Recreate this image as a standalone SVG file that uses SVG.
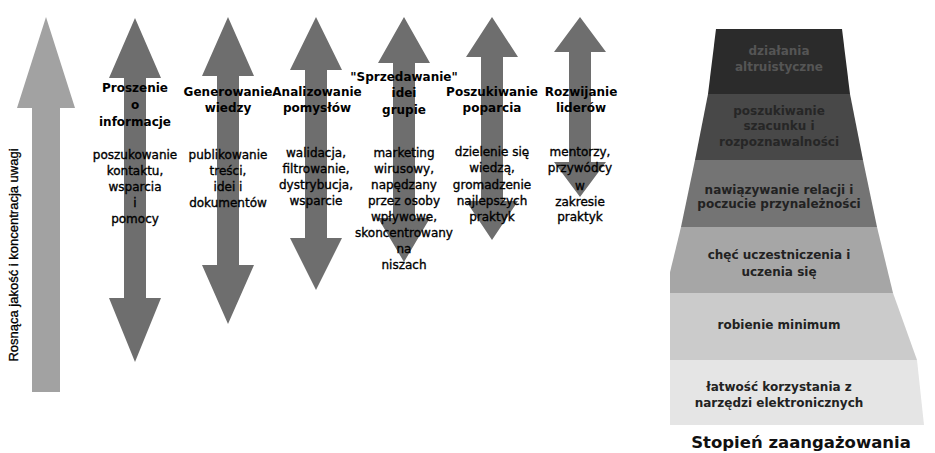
<svg xmlns="http://www.w3.org/2000/svg" width="935" height="453" viewBox="0 0 935 453">
<style>
.arr{fill:#6e6e6e}
.big{fill:#a2a2a2}
.t{font-family:"DejaVu Sans",Verdana,sans-serif;font-size:12px;font-weight:bold;fill:#000;text-anchor:middle}
.d{font-family:"DejaVu Sans",Verdana,sans-serif;font-size:12px;fill:#000;stroke:#000;stroke-width:0.35px;text-anchor:middle}
.p{font-family:"DejaVu Sans",Verdana,sans-serif;font-size:12px;font-weight:bold;fill:#222;text-anchor:middle}
.v{font-family:"Liberation Sans",Arial,sans-serif;font-size:13px;fill:#000;stroke:#000;stroke-width:0.3px;text-anchor:middle}
</style>
<defs>
<clipPath id="pc"><rect x="670" y="0" width="265" height="453"/></clipPath>
</defs>
<rect width="935" height="453" fill="#fff"/>
<g id="axis">
<polygon class="big" points="46,17 75,108 60,108 60,392 32,392 32,108 17,108"/>
<text class="v" transform="translate(18,255) rotate(-90)">Rosnąca jakość i koncentracja uwagi</text>
</g>
<g id="connectors">
<polygon class="arr" points="135,18 161,78 146,78 146,298 161,298 135,362 109,298 124,298 124,78 109,78"/>
<polygon class="arr" points="228,17 254,76 239,76 239,265 254,265 228,324 202,265 217,265 217,76 202,76"/>
<polygon class="arr" points="316,17 342,70 327,70 327,238 342,238 316,290 290,238 305,238 305,70 290,70"/>
<polygon class="arr" points="404,17 430,63 415,63 415,218 430,218 404,262 378,218 393,218 393,63 378,63"/>
<polygon class="arr" points="492,17 518,57 503,57 503,201 518,201 492,240 466,201 481,201 481,57 466,57"/>
<polygon class="arr" points="580,17 606,52 591,52 591,162 606,162 580,197 554,162 569,162 569,52 554,52"/>
</g>
<g id="col1">
<text class="t" x="135" y="92">Proszenie</text>
<text class="t" x="135" y="109">o</text>
<text class="t" x="135" y="126">informacje</text>
<text class="d" x="135" y="159">poszukowanie</text>
<text class="d" x="135" y="175">kontaktu,</text>
<text class="d" x="135" y="191">wsparcia</text>
<text class="d" x="135" y="207">i</text>
<text class="d" x="135" y="223">pomocy</text>
</g>
<g id="col2">
<text class="t" x="228" y="96">Generowanie</text>
<text class="t" x="228" y="112">wiedzy</text>
<text class="d" x="228" y="159">publikowanie</text>
<text class="d" x="228" y="175">treści,</text>
<text class="d" x="228" y="191">idei i</text>
<text class="d" x="228" y="207">dokumentów</text>
</g>
<g id="col3">
<text class="t" x="317" y="96">Analizowanie</text>
<text class="t" x="317" y="112">pomysłów</text>
<text class="d" x="316" y="157">walidacja,</text>
<text class="d" x="316" y="173">filtrowanie,</text>
<text class="d" x="316" y="189">dystrybucja,</text>
<text class="d" x="316" y="205">wsparcie</text>
</g>
<g id="col4">
<text class="t" x="404" y="81">"Sprzedawanie"</text>
<text class="t" x="404" y="97">idei</text>
<text class="t" x="404" y="114">grupie</text>
<text class="d" x="404" y="157">marketing</text>
<text class="d" x="404" y="173">wirusowy,</text>
<text class="d" x="404" y="189">napędzany</text>
<text class="d" x="404" y="205">przez osoby</text>
<text class="d" x="404" y="221">wpływowe,</text>
<text class="d" x="404" y="237">skoncentrowany</text>
<text class="d" x="404" y="253">na</text>
<text class="d" x="404" y="269">niszach</text>
</g>
<g id="col5">
<text class="t" x="492" y="96">Poszukiwanie</text>
<text class="t" x="492" y="112">poparcia</text>
<text class="d" x="492" y="156">dzielenie się</text>
<text class="d" x="492" y="172">wiedzą,</text>
<text class="d" x="492" y="189">gromadzenie</text>
<text class="d" x="492" y="205">najlepszych</text>
<text class="d" x="492" y="221">praktyk</text>
</g>
<g id="col6">
<text class="t" x="581" y="96">Rozwijanie</text>
<text class="t" x="581" y="112">liderów</text>
<text class="d" x="580" y="156">mentorzy,</text>
<text class="d" x="580" y="172">przywódcy</text>
<text class="d" x="580" y="190">w</text>
<text class="d" x="580" y="206">zakresie</text>
<text class="d" x="580" y="221">praktyk</text>
</g>
<g id="pyramid" clip-path="url(#pc)">
<g id="level1">
<polygon fill="#2b2b2b" points="716,29 842,29 850,94 708,94"/>
<text class="p" style="fill:#555" x="779" y="55">działania</text>
<text class="p" style="fill:#555" x="779" y="71">altruistyczne</text>
</g>
<g id="level2">
<polygon fill="#484848" points="708,94 850,94 863,160 695,160"/>
<text class="p" style="fill:#262626" x="779" y="115">poszukiwanie</text>
<text class="p" style="fill:#262626" x="779" y="130">szacunku i</text>
<text class="p" style="fill:#262626" x="779" y="146">rozpoznawalności</text>
</g>
<g id="level3">
<polygon fill="#747474" points="695,160 863,160 877,227 681,227"/>
<text class="p" x="779" y="194">nawiązywanie relacji i</text>
<text class="p" x="779" y="208">poczucie przynależności</text>
</g>
<g id="level4">
<polygon fill="#a6a6a6" points="681,227 877,227 893,293 665,293"/>
<text class="p" x="779" y="259">chęć uczestniczenia i</text>
<text class="p" x="779" y="276">uczenia się</text>
</g>
<g id="level5">
<polygon fill="#cbcbcb" points="665,293 893,293 917,360 641,360"/>
<text class="p" x="779" y="329">robienie minimum</text>
</g>
<g id="level6">
<polygon fill="#e5e5e5" points="641,360 917,360 924,425 630,425"/>
<text class="p" x="779" y="391">łatwość korzystania z</text>
<text class="p" x="779" y="407">narzędzi elektronicznych</text>
</g>
</g>
<text id="title" x="801" y="448" style="font-family:'DejaVu Sans',Verdana,sans-serif;font-size:16.5px;font-weight:bold;fill:#111;text-anchor:middle">Stopień zaangażowania</text>
</svg>
